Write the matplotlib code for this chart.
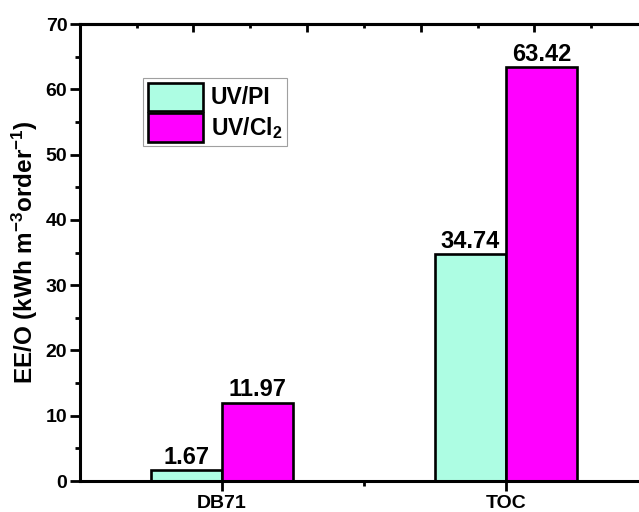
import numpy as np
import matplotlib
matplotlib.use("Agg")
import matplotlib.pyplot as plt

plt.rcParams["font.family"] = ["Liberation Sans", "DejaVu Sans"]
plt.rcParams["font.weight"] = "bold"
plt.rcParams["mathtext.fontset"] = "custom"
plt.rcParams["mathtext.rm"] = "Liberation Sans:bold"
plt.rcParams["mathtext.bf"] = "Liberation Sans:bold"
plt.rcParams["mathtext.default"] = "bf"

# EE/O values per target
categories = ["DB71", "TOC"]
series_names = ["UV/PI", "UV/Cl$_2$"]
uv_pi = [1.67, 34.74]
uv_cl2 = [11.97, 63.42]
colors = ["#ADFDE3", "#FF00FF"]

fig = plt.figure(figsize=(6.39, 5.12), dpi=100)
ax = fig.add_axes([0.125, 0.0605, 0.889, 0.8926])

x = np.arange(len(categories))
w = 0.25
b1 = ax.bar(x - w / 2, uv_pi, w, color=colors[0], edgecolor="black",
            linewidth=1.9, label=series_names[0])
b2 = ax.bar(x + w / 2, uv_cl2, w, color=colors[1], edgecolor="black",
            linewidth=1.9, label=series_names[1])

for bars, vals in [(b1, uv_pi), (b2, uv_cl2)]:
    for r, v in zip(bars, vals):
        ax.annotate(f"{v:.2f}", (r.get_x() + r.get_width() / 2, v),
                    xytext=(0, 1), textcoords="offset points",
                    ha="center", va="bottom", fontsize=17, fontweight="bold")

ax.set_xlim(-0.5, 1.5)
ax.set_ylim(0, 70)
ax.set_xticks(x)
ax.set_xticklabels(categories, fontsize=14, fontweight="bold")
ax.set_xticks([0.5], minor=True)
ax.set_yticks(np.arange(0, 71, 10))
ax.set_yticks(np.arange(5, 70, 10), minor=True)
ax.tick_params(axis="y", labelsize=14, width=2, length=7, direction="out",
               pad=2)
ax.tick_params(axis="y", which="minor", width=2, length=3.5, direction="out")
ax.tick_params(axis="x", width=2, length=7, direction="out", pad=3)
ax.tick_params(axis="x", which="minor", width=2, length=3.5, direction="out")
for lab in ax.get_yticklabels():
    lab.set_fontweight("bold")

for side in ["left", "bottom", "top"]:
    ax.spines[side].set_linewidth(2.2)
ax.spines["right"].set_visible(False)

# top axis ticks
top = ax.secondary_xaxis("top")
top.set_xticks([-0.1, 0.3, 0.7, 1.1])
top.set_xticks([-0.3, 0.1, 0.5, 0.9, 1.3], minor=True)
top.set_xticklabels([])
top.tick_params(axis="x", direction="in", width=2, length=6)
top.tick_params(axis="x", which="minor", direction="in", width=2, length=3)
top.spines["top"].set_linewidth(2.2)

ax.set_ylabel("EE/O (kWh m$^{-3}$order$^{-1}$)", fontsize=17.5,
              fontweight="bold", labelpad=4)

leg = ax.legend(loc="upper left", bbox_to_anchor=(0.111, 0.882),
                borderaxespad=0, fontsize=16.5, frameon=True, fancybox=False,
                handlelength=2.4, handleheight=1.55, labelspacing=0.08,
                handletextpad=0.35, borderpad=0.2)
leg.get_frame().set_edgecolor("#888888")
leg.get_frame().set_linewidth(0.8)

fig.savefig("out.png", dpi=100)
